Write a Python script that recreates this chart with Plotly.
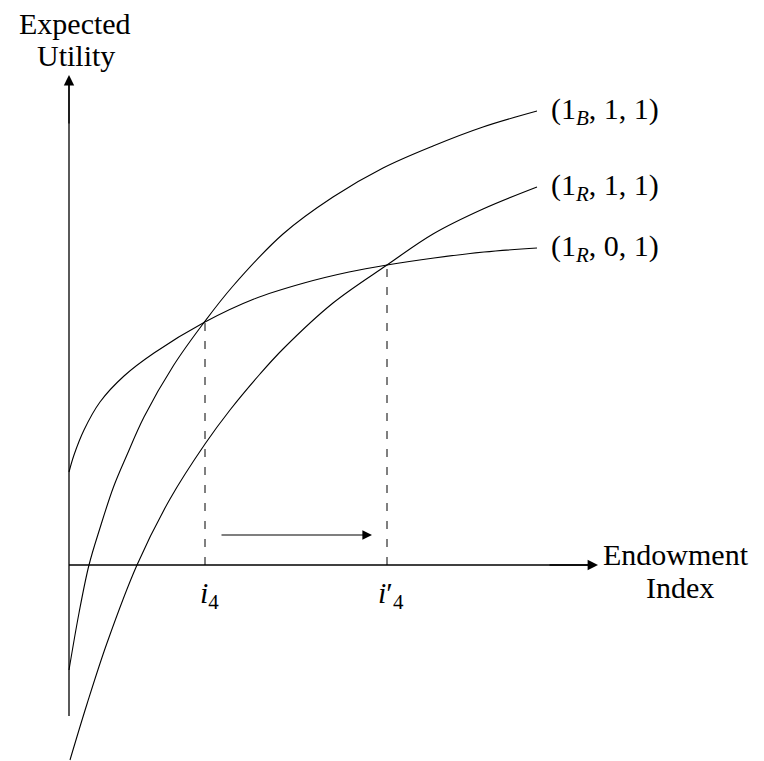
import plotly.graph_objects as go

# curve samples (endowment index, expected utility)
r01_x = [0.0, 0.1, 0.3, 0.62, 1.1, 1.7, 2.70, 3.7, 4.7, 5.6, 6.36, 7.3, 8.3, 9.36]
r01_y = [1.86, 2.2, 2.70, 3.26, 3.78, 4.24, 4.85, 5.32, 5.64, 5.86, 6.00, 6.14, 6.26, 6.34]

b11_x = [0.0, 0.2, 0.4, 0.62, 0.89, 1.15, 1.5, 2.09, 2.70, 3.28, 4.28, 5.28, 6.28, 7.28, 8.28, 9.36]
b11_y = [-2.10, -0.96, 0.0, 0.74, 1.56, 2.18, 2.96, 3.99, 4.85, 5.58, 6.62, 7.36, 7.94, 8.38, 8.76, 9.08]

r11_x = [0.02, 0.36, 0.76, 1.36, 2.02, 2.72, 3.22, 3.82, 4.28, 5.28, 6.36, 7.28, 8.28, 9.36]
r11_y = [-3.90, -2.78, -1.56, 0.0, 1.32, 2.42, 3.10, 3.82, 4.32, 5.24, 6.00, 6.62, 7.12, 7.56]

curve_labels = ['(1<sub><i>B</i></sub>, 1, 1)', '(1<sub><i>R</i></sub>, 1, 1)', '(1<sub><i>R</i></sub>, 0, 1)']

# crossing points and their labels
cross_x = [2.72, 6.36]
cross_y = [4.85, 6.00]
cross_labels = ['<i>i</i><sub>4</sub>', '<i>i</i>′<sub>4</sub>']

x_axis_end = 10.58
y_axis_top = 9.8
y_axis_bottom = -3.02

FONT = 'Liberation Serif'
fig = go.Figure()

for xs, ys in [(b11_x, b11_y), (r11_x, r11_y), (r01_x, r01_y)]:
    fig.add_trace(go.Scatter(x=xs, y=ys, mode='lines',
                             line=dict(color='black', width=1.1, shape='spline', smoothing=1.0),
                             showlegend=False, hoverinfo='skip'))

# curve end labels
for xs, ys, lab in [(b11_x, b11_y, curve_labels[0]), (r11_x, r11_y, curve_labels[1]), (r01_x, r01_y, curve_labels[2])]:
    fig.add_annotation(x=xs[-1] + 0.24, y=ys[-1], text=lab, showarrow=False, xanchor='left', yanchor='middle',
                       font=dict(family=FONT, size=30, color='black'))

# dashed drops and index labels
for cx, cy, lab in zip(cross_x, cross_y, cross_labels):
    fig.add_trace(go.Scatter(x=[cx, cx], y=[0, cy], mode='lines',
                             line=dict(color='black', width=1, dash='8px,10px'),
                             showlegend=False, hoverinfo='skip'))
    fig.add_annotation(x=cx + 0.08, y=-0.6, text=lab, showarrow=False, xanchor='center', yanchor='middle',
                       font=dict(family=FONT, size=30, color='black'))

# axes
fig.add_trace(go.Scatter(x=[0, 0], y=[y_axis_bottom, y_axis_top - 0.1], mode='lines',
                         line=dict(color='black', width=1.3), showlegend=False, hoverinfo='skip'))
fig.add_trace(go.Scatter(x=[0, x_axis_end - 0.1], y=[0, 0], mode='lines',
                         line=dict(color='black', width=1.3), showlegend=False, hoverinfo='skip'))
fig.add_annotation(x=0, y=y_axis_top, ax=0, ay=y_axis_top - 1, xref='x', yref='y', axref='x', ayref='y',
                   showarrow=True, arrowhead=2, arrowsize=1.6, arrowwidth=1.3, arrowcolor='black', text='')
fig.add_annotation(x=x_axis_end, y=0, ax=x_axis_end - 1, ay=0, xref='x', yref='y', axref='x', ayref='y',
                   showarrow=True, arrowhead=2, arrowsize=1.6, arrowwidth=1.3, arrowcolor='black', text='')

# shift arrow
fig.add_annotation(x=cross_x[1] - 0.3, y=0.6, ax=cross_x[0] + 0.3, ay=0.6, xref='x', yref='y', axref='x', ayref='y',
                   showarrow=True, arrowhead=2, arrowsize=1.6, arrowwidth=1.2, arrowcolor='black', text='')

# axis titles
for txt, x, y in [('Expected', 0.12, 10.84), ('Utility', 0.14, 10.2), ('Endowment', 12.14, 0.22), ('Index', 12.22, -0.44)]:
    fig.add_annotation(x=x, y=y, text=txt, showarrow=False, xanchor='center', yanchor='middle', borderpad=0,
                       font=dict(family=FONT, size=30, color='black'))

fig.update_layout(
    width=764, height=761, autosize=False,
    margin=dict(l=0, r=0, t=0, b=0),
    xaxis=dict(range=[-1.22, 14.06], visible=False),
    yaxis=dict(range=[-4.08, 11.14], visible=False),
    plot_bgcolor='white', paper_bgcolor='white',
    showlegend=False
)

fig.write_html('out.html')
